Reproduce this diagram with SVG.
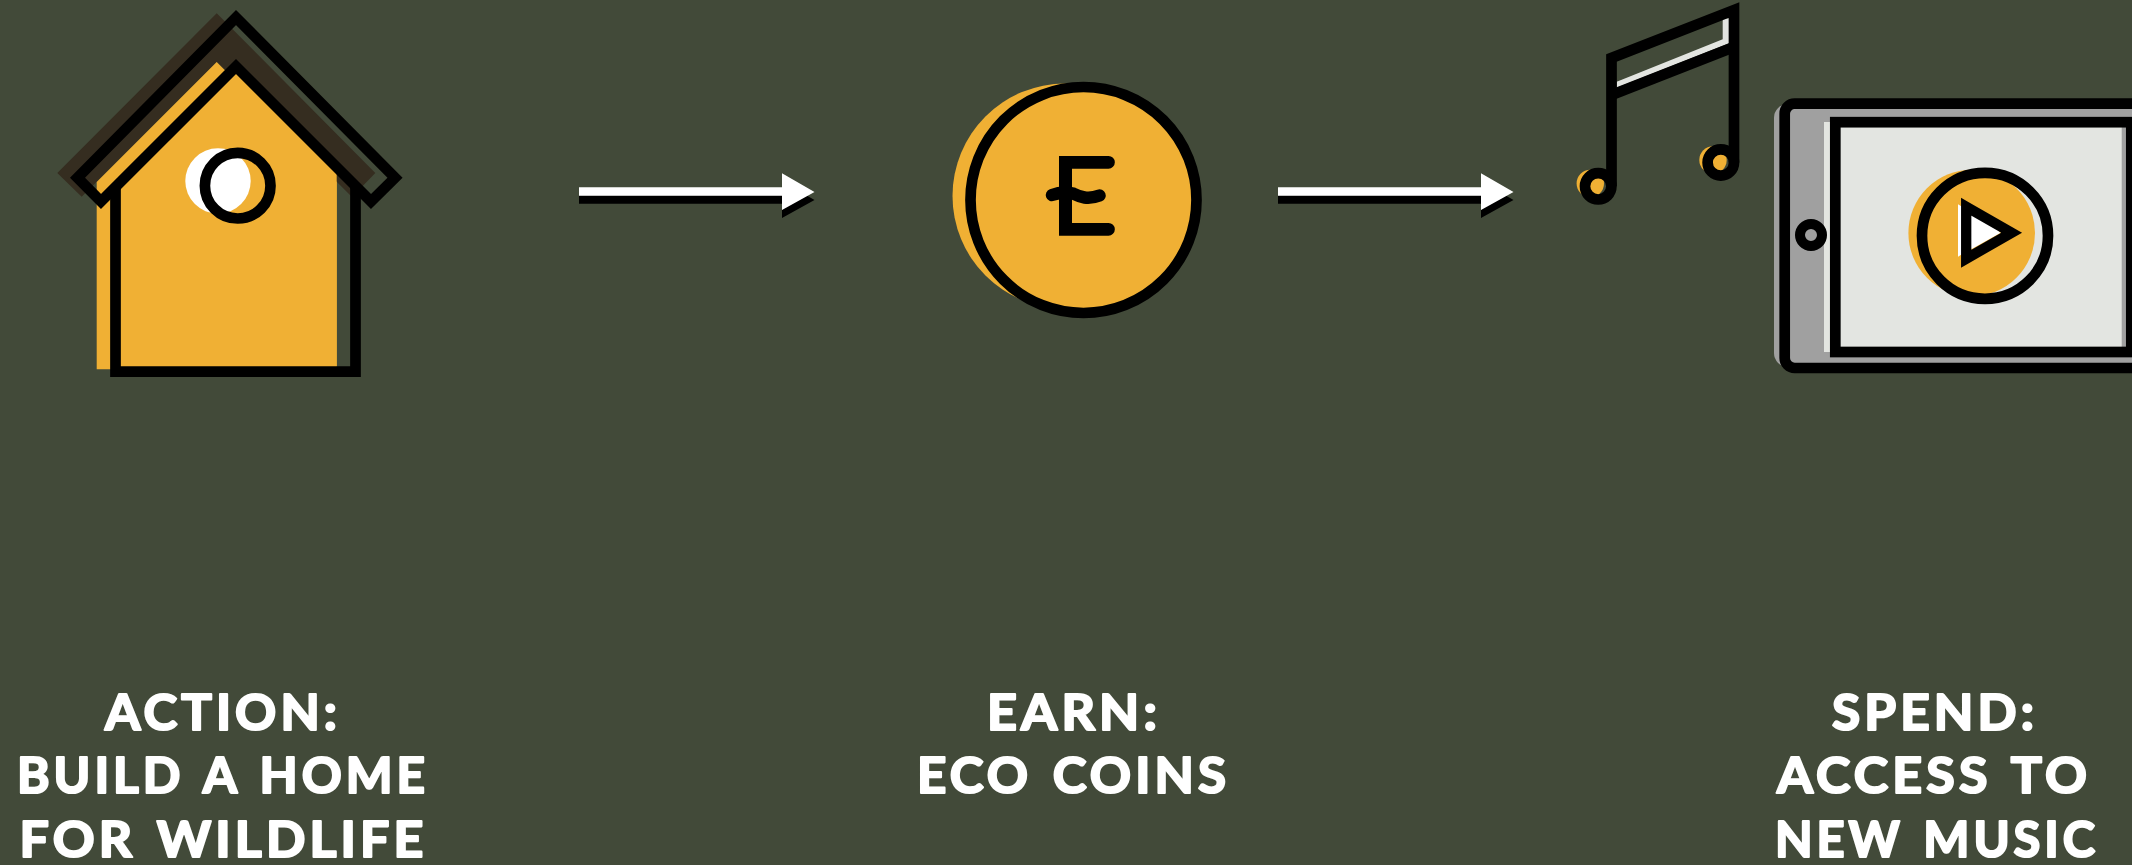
<svg xmlns="http://www.w3.org/2000/svg" width="2132" height="865" viewBox="0 0 2132 865">
<style>
.ink{fill:none;stroke:#000;stroke-width:10.7;stroke-miterlimit:10}
.or{fill:#f0b034}
.wh{fill:#fff}
.lt{fill:#e3e5e1}
.gr{fill:#a0a0a0}
.lbl{font-family:"Lato","Liberation Sans",sans-serif;font-weight:700;font-size:50px;letter-spacing:4px;word-spacing:4px;fill:#fff;stroke:#fff;stroke-width:2.2px;stroke-linejoin:round}
</style>
<defs>
<path id="arrowShape" d="M579 187.3H782V173.3L814.5 192L782 210V195.7H579Z"/>
</defs>
<rect width="2132" height="865" fill="#424a39"/>

<g id="node-house">
<path d="M216.7 13.3L375.3 173L352 197L216.7 62L81.7 196.7L57.3 173Z" fill="#352d20"/>
<path class="or" d="M96.7 182L216.7 62L336.7 182V369.3H96.7Z"/>
<path class="or" d="M115 195L236 72L336.7 172V366.3H115Z"/>
<circle class="wh" cx="218" cy="181" r="32.7"/>
<path class="ink" d="M115.5 185V371.7H355.5V185"/>
<path class="ink" d="M236 17.5L395 177.7L371 201.5L236 66.5L101 201.5L77.5 177.7Z"/>
<circle class="ink" cx="237.7" cy="185.7" r="32.8"/>
</g>

<g id="connectors">
<use href="#arrowShape" y="8" fill="#000"/>
<use href="#arrowShape" class="wh"/>
<use href="#arrowShape" x="699" y="8" fill="#000"/>
<use href="#arrowShape" x="699" class="wh"/>
</g>

<g id="node-coin">
<circle class="or" cx="1065" cy="196" r="112.5"/>
<circle class="or" cx="1083.5" cy="200" r="113"/>
<circle class="ink" cx="1083.5" cy="200" r="113"/>
<path d="M1059 156H1108.5a6.3 6.3 0 0 1 0 12.7H1072V223H1108.5a6.3 6.3 0 0 1 0 12.7H1059Z" fill="#000"/>
<path d="M1052 195C1060 192 1066 192 1073 193.5C1080 197 1088 200 1099.5 195.5" fill="none" stroke="#000" stroke-width="12.5" stroke-linecap="round"/>
</g>

<g id="node-notes">
<circle class="or" cx="1590.3" cy="183.5" r="13.7"/>
<circle class="or" cx="1713" cy="160" r="13.7"/>
<path class="lt" d="M1616.7 81.7L1722.7 39.3V18.3H1729V43.3L1616.7 87.7Z"/>
<path class="ink" d="M1611.5 186.3V58L1734 10V162.5"/>
<path class="ink" d="M1611.5 95L1734 47"/>
<circle class="ink" cx="1598.2" cy="186.3" r="13.2"/>
<circle class="ink" cx="1720.8" cy="162.5" r="13.2"/>
</g>

<g id="node-tablet">
<rect class="gr" x="1774" y="104" width="400" height="263" rx="14"/>
<rect class="ink" style="fill:#a0a0a0" x="1784.7" y="103.7" width="420" height="264.3" rx="10"/>
<rect class="lt" x="1824" y="122" width="297.7" height="230"/>
<circle class="ink" style="fill:#a0a0a0;stroke-width:10" cx="1811" cy="235" r="11"/>
<rect class="ink" x="1835.3" y="122.2" width="296" height="229.8"/>
<circle class="or" cx="1971.7" cy="233" r="63.3"/>
<path class="wh" d="M1958 204.3L2000.7 230.5L1958 256.7Z"/>
<path class="wh" d="M1971.3 216L2000.7 232.7L1971.3 249.3Z"/>
<circle class="ink" cx="1985" cy="235.8" r="63"/>
<path class="ink" style="stroke-width:10.3" d="M1966.2 206.7L2011.7 232.7L1966.2 258.8Z"/>
</g>

<g id="labels">
<text class="lbl" x="105" y="729.5" textLength="236" lengthAdjust="spacingAndGlyphs">ACTION:</text>
<text class="lbl" x="17" y="793" textLength="412" lengthAdjust="spacingAndGlyphs">BUILD A HOME</text>
<text class="lbl" x="19.5" y="857" textLength="408" lengthAdjust="spacingAndGlyphs">FOR WILDLIFE</text>
<text class="lbl" x="987" y="729.5" textLength="174" lengthAdjust="spacingAndGlyphs">EARN:</text>
<text class="lbl" x="917" y="793" textLength="313" lengthAdjust="spacingAndGlyphs">ECO COINS</text>
<text class="lbl" x="1832" y="729.5" textLength="206" lengthAdjust="spacingAndGlyphs">SPEND:</text>
<text class="lbl" x="1777" y="793" textLength="314" lengthAdjust="spacingAndGlyphs">ACCESS TO</text>
<text class="lbl" x="1775" y="857" textLength="324" lengthAdjust="spacingAndGlyphs">NEW MUSIC</text>
</g>
</svg>
